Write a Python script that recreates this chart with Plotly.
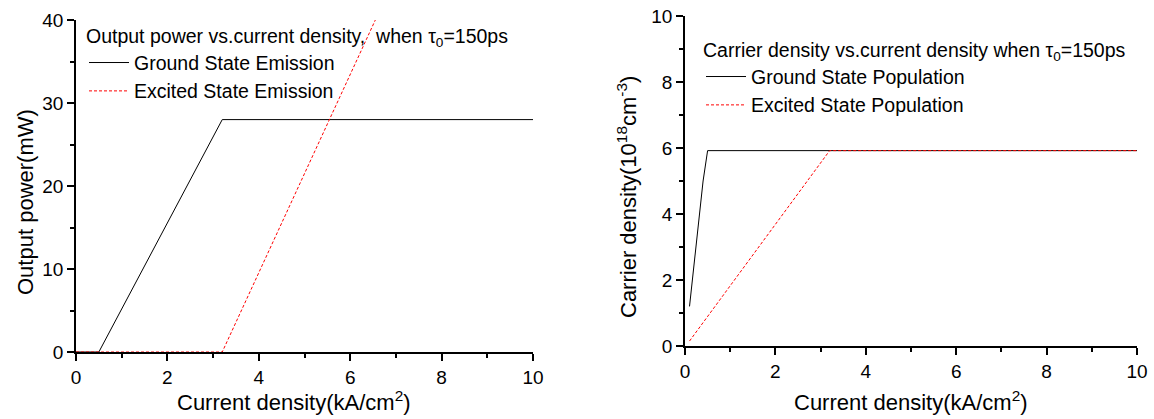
import plotly.graph_objects as go

# ---- data ----
# Left panel: output power vs current density
j_gs_power = [0.0, 0.5, 3.2, 10.0]
p_gs_power = [0.0, 0.0, 28.0, 28.0]
j_es_power = [0.0, 3.2, 6.6]
p_es_power = [0.0, 0.0, 40.6]

# Right panel: carrier density vs current density
j_gs_pop = [0.1, 0.4, 0.5, 10.0]
n_gs_pop = [1.2, 5.0, 5.92, 5.92]
j_es_pop = [0.1, 3.2, 10.0]
n_es_pop = [0.15, 5.92, 5.92]

x_ticks = [0, 2, 4, 6, 8, 10]
left_y_ticks = [0, 10, 20, 30, 40]
right_y_ticks = [0, 2, 4, 6, 8, 10]

FONT = "Liberation Sans, Arial, sans-serif"
W, H = 1154, 419

def px_x(p):
    return p / W

def px_y(p):
    return 1 - p / H

fig = go.Figure()

fig.add_trace(go.Scatter(x=j_gs_power, y=p_gs_power, mode="lines",
                         name="Ground State Emission",
                         line=dict(color="black", width=1),
                         xaxis="x", yaxis="y", legend="legend"))
fig.add_trace(go.Scatter(x=j_es_power, y=p_es_power, mode="lines",
                         name="Excited State Emission",
                         line=dict(color="red", width=1, dash="3px,2px"),
                         xaxis="x", yaxis="y", legend="legend"))
fig.add_trace(go.Scatter(x=j_gs_pop, y=n_gs_pop, mode="lines",
                         name="Ground State Population",
                         line=dict(color="black", width=1),
                         xaxis="x2", yaxis="y2", legend="legend2"))
fig.add_trace(go.Scatter(x=j_es_pop, y=n_es_pop, mode="lines",
                         name="Excited State Population",
                         line=dict(color="red", width=1, dash="3px,2px"),
                         xaxis="x2", yaxis="y2", legend="legend2"))

axis_common = dict(
    showgrid=False, zeroline=False, showline=True, linecolor="black",
    linewidth=1.5, ticks="outside", ticklen=7, tickwidth=1.5,
    tickcolor="black", layer="below traces", automargin=False,
    tickfont=dict(family=FONT, size=19, color="black"),
)

def minor(dt):
    return dict(dtick=dt, ticks="outside", ticklen=4, tickwidth=1.5,
                tickcolor="black", showgrid=False)

LEG = 19.5

fig.update_layout(
    width=W, height=H,
    margin=dict(l=0, r=0, t=0, b=0, autoexpand=False),
    paper_bgcolor="white", plot_bgcolor="white",
    font=dict(family=FONT, color="black"),
    xaxis=dict(domain=[px_x(76), px_x(533)], range=[0, 10],
               tickvals=x_ticks, anchor="y", minor=minor(1), **axis_common),
    yaxis=dict(domain=[px_y(352), px_y(20)], range=[0, 40],
               tickvals=left_y_ticks, anchor="x", minor=minor(5), **axis_common),
    xaxis2=dict(domain=[px_x(685), px_x(1137)], range=[0, 10],
                tickvals=x_ticks, anchor="y2", minor=minor(1), **axis_common),
    yaxis2=dict(domain=[px_y(346), px_y(16)], range=[0, 10],
                tickvals=right_y_ticks, anchor="x2", minor=minor(1), **axis_common),
    legend=dict(
        title=dict(text="Output power vs.current density,\u00a0 when \u03c4<sub>0</sub>=150ps",
                   font=dict(family=FONT, size=LEG, color="black")),
        font=dict(family=FONT, size=LEG, color="black"),
        x=px_x(84), y=px_y(18), xanchor="left", yanchor="top",
        bgcolor="rgba(0,0,0,0)", borderwidth=0, itemwidth=40,
    ),
    legend2=dict(
        title=dict(text="Carrier density vs.current density when \u03c4<sub>0</sub>=150ps",
                   font=dict(family=FONT, size=LEG, color="black")),
        font=dict(family=FONT, size=LEG, color="black"),
        x=px_x(701), y=px_y(32), xanchor="left", yanchor="top",
        bgcolor="rgba(0,0,0,0)", borderwidth=0, itemwidth=40,
    ),
    showlegend=True,
)

title_font = dict(family=FONT, size=22, color="black")
fig.add_annotation(text="Current density(kA/cm<sup>2</sup>)", xref="paper", yref="paper",
                   x=px_x(294), y=px_y(401), xanchor="center", yanchor="middle",
                   showarrow=False, font=title_font)
fig.add_annotation(text="Current density(kA/cm<sup>2</sup>)", xref="paper", yref="paper",
                   x=px_x(911), y=px_y(401), xanchor="center", yanchor="middle",
                   showarrow=False, font=title_font)
fig.add_annotation(text="Output power(mW)", xref="paper", yref="paper",
                   x=px_x(25), y=px_y(202), xanchor="center", yanchor="middle",
                   textangle=-90, showarrow=False, font=title_font)
fig.add_annotation(text="Carrier density(10<sup>18</sup>cm<sup>-3</sup>)", xref="paper", yref="paper",
                   x=px_x(627), y=px_y(197), xanchor="center", yanchor="middle",
                   textangle=-90, showarrow=False, font=title_font)

fig.write_html("out.html", config={"displayModeBar": False})

# remove the default page margin so the 1154x419 figure fills the window exactly
with open("out.html", "r", encoding="utf-8") as f:
    html = f.read()
html = html.replace("<head>", "<head><style>html,body{margin:0;padding:0;overflow:hidden;}</style>", 1)
with open("out.html", "w", encoding="utf-8") as f:
    f.write(html)
